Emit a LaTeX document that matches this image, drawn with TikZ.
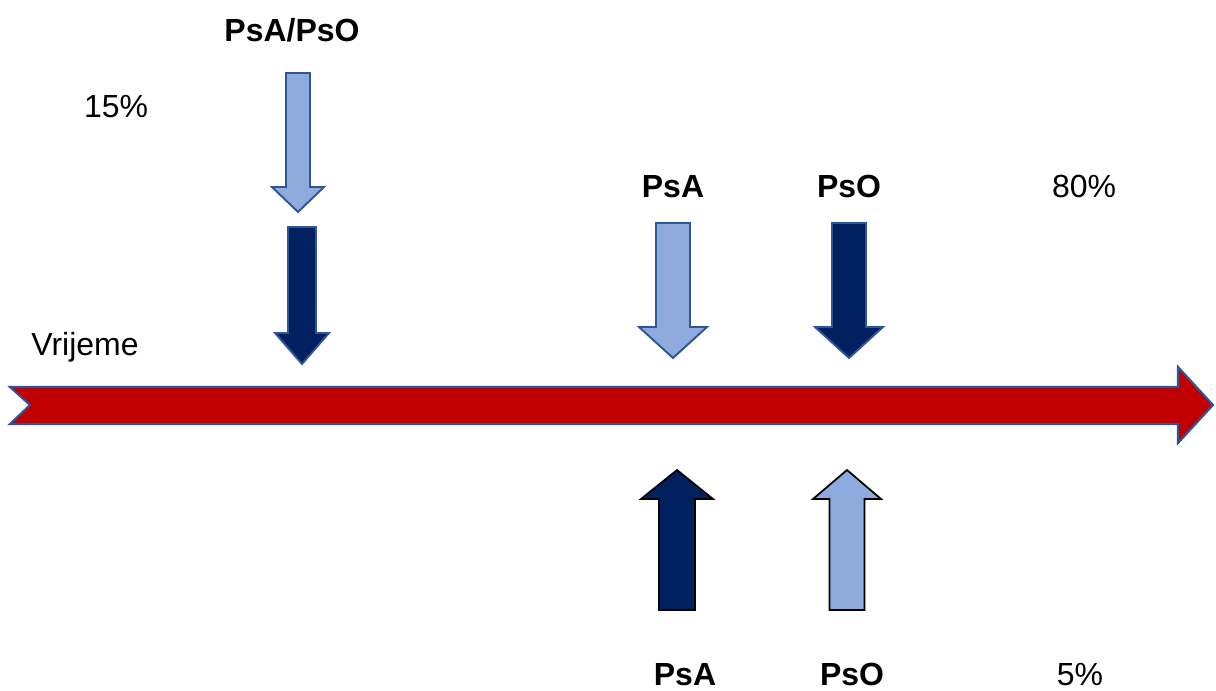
\documentclass[tikz,border=0pt]{standalone}
\usepackage{fontspec}
\setmainfont{Liberation Sans}
\definecolor{timered}{HTML}{C00000}
\definecolor{lightblue}{HTML}{8FAADC}
\definecolor{darkblue}{HTML}{002060}
\definecolor{edgeblue}{HTML}{2F5597}
\tikzset{
  lbl/.style={anchor=base,inner sep=0pt,font=\fontsize{18.2}{22}\selectfont},
  blbl/.style={lbl,font=\fontsize{18.2}{22}\selectfont\bfseries},
  light/.style={fill=lightblue,draw=edgeblue,line width=1.1pt},
  dark/.style={fill=darkblue,draw=edgeblue,line width=1.1pt},
  lightup/.style={fill=lightblue,draw=black,line width=1pt},
  darkup/.style={fill=darkblue,draw=black,line width=1pt}
}
\begin{document}
\begin{tikzpicture}[x=0.02cm,y=-0.02cm,line join=miter]
\useasboundingbox (0,0) rectangle (1216,690);
% time axis
\filldraw[fill=timered,draw=edgeblue,line width=1.2pt] (10,387) -- (1178,387) -- (1178,367) -- (1213,405)
  -- (1178,443) -- (1178,424) -- (10,424) -- (30,405) -- cycle;
% block arrows: centre / shaft end / head base / tip / half shaft / half head / style
\foreach \cx/\ya/\yb/\yc/\sw/\hw/\st in {298/73/187/212/12/26/light, 302/227/333/364/14/27/dark,
    673/223/327/358/17/34/light, 849/223/327/358/17/34/dark,
    677/610/499/470/18/36/darkup, 847/610/499/470/17.5/34/lightup}
  \filldraw[\st] (\cx-\sw,\ya) -- (\cx+\sw,\ya) -- (\cx+\sw,\yb) -- (\cx+\hw,\yb) -- (\cx,\yc)
    -- (\cx-\hw,\yb) -- (\cx-\sw,\yb) -- cycle;
% labels
\node[blbl] (both) at (292,41) {PsA/PsO};
\node[lbl] (p15) at (116,117) {15\%};
\node[lbl] (time) at (85,355) {Vrijeme};
\node[blbl] (psatop) at (673,197) {PsA};
\node[blbl] (psotop) at (849,197) {PsO};
\node[lbl] (p80) at (1084,197) {80\%};
\node[blbl,text depth=0pt] (psabot) at (685,685) {PsA};
\node[blbl,text depth=0pt] (psobot) at (852,685) {PsO};
\node[lbl,text depth=0pt] (p5) at (1080,685) {5\%};
\end{tikzpicture}
\end{document}
